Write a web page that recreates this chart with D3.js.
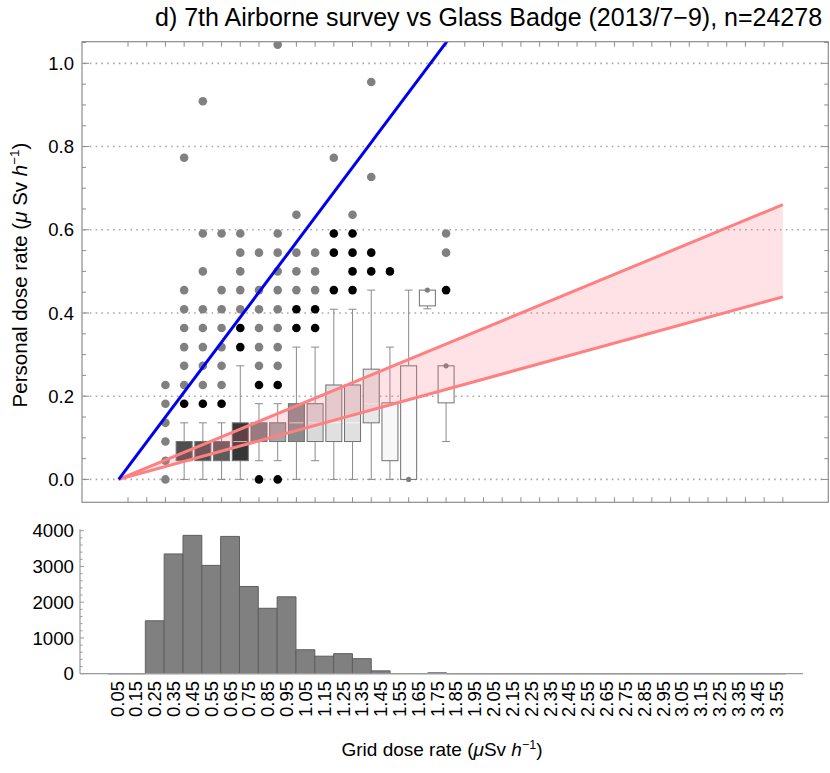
<!DOCTYPE html>
<html><head><meta charset="utf-8">
<script src="https://cdn.jsdelivr.net/npm/d3@7"></script>
<style>body{margin:0;background:#fff} text{font-family:"Liberation Sans",Arial,Helvetica,sans-serif;fill:#000}</style>
</head><body><svg id="c" width="830" height="773"></svg>
<script>
// ---------------- data ----------------
const binCenters = [0.05,0.15,0.25,0.35,0.45,0.55,0.65,0.75,0.85,0.95,1.05,1.15,1.25,1.35,1.45,1.55,1.65,1.75,1.85,1.95,2.05,2.15,2.25,2.35,2.45,2.55,2.65,2.75,2.85,2.95,3.05,3.15,3.25,3.35,3.45,3.55];
const binLabels = ["0.05","0.15","0.25","0.35","0.45","0.55","0.65","0.75","0.85","0.95","1.05","1.15","1.25","1.35","1.45","1.55","1.65","1.75","1.85","1.95","2.05","2.15","2.25","2.35","2.45","2.55","2.65","2.75","2.85","2.95","3.05","3.15","3.25","3.35","3.45","3.55"];
const histCounts = [0,0,1480,3350,3870,3030,3840,2440,1830,2150,670,490,560,420,80,5,5,25,0,0,0,0,0,0,0,0,0,0,0,0,0,0,0,0,0,0];
const histTicks = [0,1000,2000,3000,4000];
const yTicks = [0.0,0.2,0.4,0.6,0.8,1.0];
const yTickLabels = ["0.0","0.2","0.4","0.6","0.8","1.0"];

// box-whisker summary per grid-dose bin
const boxDose  = [0.35,0.45,0.55,0.65,0.75,0.85,0.95,1.05,1.15,1.25,1.35,1.45,1.55,1.65,1.75];
const boxQ1    = [0.045,0.045,0.045,0.045,0.091,0.091,0.091,0.091,0.091,0.091,0.136,0.045,0.0,0.417,0.184];
const boxQ3    = [0.091,0.091,0.091,0.136,0.136,0.136,0.182,0.182,0.227,0.227,0.265,0.184,0.273,0.455,0.273];
const boxMed   = [0.045,0.045,0.045,0.091,0.091,0.091,0.136,0.136,0.136,0.136,0.182,0.045,0.159,0.455,0.273];
const boxLow   = [0.0,0.0,0.0,0.0,0.045,0.045,0.0,0.045,0.0,0.0,0.0,0.0,0.0,0.410,0.091];
const boxHigh  = [0.136,0.136,0.136,0.273,0.182,0.182,0.318,0.318,0.409,0.409,0.455,0.318,0.455,0.455,0.273];
const boxFills = ["#4f4f4f","#4f4f4f","#5c5c5c","#363636","#7f7f7f","#a6a6a6","#8c8c8c","#d9d9d9","#e0e0e0","#e0e0e0","#e8e8e8","#f7f7f7","#fcfcfc","#ffffff","#ffffff"];

// far outliers (gray) and near outliers (black): [grid dose, personal dose]
const farOutliers = [
 [0.25,0],[0.25,0.045],[0.25,0.091],[0.25,0.136],[0.25,0.182],[0.25,0.227],
 [0.35,0.227],[0.35,0.273],[0.35,0.318],[0.35,0.364],[0.35,0.409],[0.35,0.455],[0.35,0.773],
 [0.45,0.227],[0.45,0.273],[0.45,0.318],[0.45,0.364],[0.45,0.409],[0.45,0.5],[0.45,0.591],[0.45,0.909],
 [0.55,0.227],[0.55,0.273],[0.55,0.318],[0.55,0.364],[0.55,0.409],[0.55,0.455],[0.55,0.591],
 [0.65,0.409],[0.65,0.455],[0.65,0.5],[0.65,0.545],[0.65,0.591],
 [0.75,0.273],[0.75,0.318],[0.75,0.364],[0.75,0.409],[0.75,0.455],[0.75,0.545],
 [0.85,0.273],[0.85,0.318],[0.85,0.364],[0.85,0.409],[0.85,0.455],[0.85,0.5],[0.85,0.545],[0.85,0.591],[0.85,1.045],
 [0.95,0.455],[0.95,0.5],[0.95,0.545],[0.95,0.636],
 [1.05,0.455],[1.05,0.5],[1.05,0.545],
 [1.15,0.773],[1.25,0.636],[1.35,0.727],[1.35,0.955],
 [1.75,0.545],[1.75,0.591]
];
const nearOutliers = [
 [0.35,0.182],[0.45,0.182],[0.55,0.182],
 [0.65,0.318],[0.65,0.364],
 [0.75,0],[0.75,0.227],[0.85,0],[0.85,0.227],
 [0.95,0.364],[0.95,0.409],[1.05,0.364],[1.05,0.409],
 [1.15,0.455],[1.15,0.545],[1.15,0.591],
 [1.25,0.455],[1.25,0.5],[1.25,0.545],[1.25,0.591],
 [1.35,0.5],[1.35,0.545],[1.45,0.5],[1.75,0.455]
];
const smallMarks = [[1.55,0],[1.65,0.455],[1.75,0.273]];

// reference lines through origin
const blueSlope = 0.6;
const redUpperSlope = 0.186;
const redLowerSlope = 0.1236;
const redEnd = 3.55;

// ---------------- drawing ----------------
const svg = d3.select("#c");
const FR = "#8c8c8c";

// top panel scales
const x = d3.scaleLinear().domain([-0.196, 3.793]).range([82, 828.3]);
const y = d3.scaleLinear().domain([-0.055, 1.052]).range([502.3, 41.7]);

svg.append("defs").append("clipPath").attr("id","clipTop")
  .append("rect").attr("x",82).attr("y",41.7).attr("width",828.3-82).attr("height",502.3-41.7);

const topG = svg.append("g");

// gridlines
topG.selectAll("line.grid").data(yTicks).enter().append("line")
  .attr("x1",84).attr("x2",826).attr("y1",d=>y(d)).attr("y2",d=>y(d))
  .attr("stroke","#a8a8a8").attr("stroke-width",1.6).attr("stroke-dasharray","1.6,4.2");

// y ticks (major + minor) left & right
const minorY = [0,0.05,0.1,0.15,0.2,0.25,0.3,0.35,0.4,0.45,0.5,0.55,0.6,0.65,0.7,0.75,0.8,0.85,0.9,0.95,1.0,1.05];
minorY.forEach(v => {
  const isMajor = Math.abs(v*5 - Math.round(v*5)) < 1e-6;
  const len = isMajor ? 7 : 4;
  topG.append("line").attr("x1",82).attr("x2",82+len).attr("y1",y(v)).attr("y2",y(v)).attr("stroke",FR);
  topG.append("line").attr("x1",828.3).attr("x2",828.3-len).attr("y1",y(v)).attr("y2",y(v)).attr("stroke",FR);
});
// x ticks top & bottom at bin centers
binCenters.forEach(v => {
  topG.append("line").attr("x1",x(v)).attr("x2",x(v)).attr("y1",41.7).attr("y2",46.7).attr("stroke",FR);
  topG.append("line").attr("x1",x(v)).attr("x2",x(v)).attr("y1",502.3).attr("y2",497.3).attr("stroke",FR);
});

// y tick labels
topG.selectAll("text.yl").data(yTicks).enter().append("text")
  .attr("x",74).attr("y",d=>y(d)).attr("dy","0.36em").attr("text-anchor","end")
  .attr("font-size",18.5).text((d,i)=>yTickLabels[i]);

const plot = topG.append("g").attr("clip-path","url(#clipTop)");

// outliers
plot.selectAll("circle.far").data(farOutliers).enter().append("circle")
  .attr("cx",d=>x(d[0])).attr("cy",d=>y(d[1])).attr("r",4.3).attr("fill","#808080");
plot.selectAll("circle.near").data(nearOutliers).enter().append("circle")
  .attr("cx",d=>x(d[0])).attr("cy",d=>y(d[1])).attr("r",4.3).attr("fill","#000");

// boxes
const bw = 16, cap = 4;
boxDose.forEach((d,i) => {
  const cx = x(d);
  const wc = "#8a8a8a";
  if (boxHigh[i] > boxQ3[i]) {
    plot.append("line").attr("x1",cx).attr("x2",cx).attr("y1",y(boxQ3[i])).attr("y2",y(boxHigh[i])).attr("stroke",wc);
    plot.append("line").attr("x1",cx-cap).attr("x2",cx+cap).attr("y1",y(boxHigh[i])).attr("y2",y(boxHigh[i])).attr("stroke",wc);
  }
  if (boxLow[i] < boxQ1[i]) {
    plot.append("line").attr("x1",cx).attr("x2",cx).attr("y1",y(boxQ1[i])).attr("y2",y(boxLow[i])).attr("stroke",wc);
    plot.append("line").attr("x1",cx-cap).attr("x2",cx+cap).attr("y1",y(boxLow[i])).attr("y2",y(boxLow[i])).attr("stroke",wc);
  }
  plot.append("rect").attr("x",cx-bw/2).attr("width",bw)
    .attr("y",y(boxQ3[i])).attr("height",y(boxQ1[i])-y(boxQ3[i]))
    .attr("fill",boxFills[i]).attr("stroke","#707070").attr("stroke-width",1);
  if (boxMed[i] > boxQ1[i] && boxMed[i] < boxQ3[i]) {
    plot.append("line").attr("x1",cx-bw/2+1).attr("x2",cx+bw/2-1).attr("y1",y(boxMed[i])).attr("y2",y(boxMed[i]))
      .attr("stroke","#fff").attr("stroke-opacity",0.75);
  }
});
plot.selectAll("circle.sm").data(smallMarks).enter().append("circle")
  .attr("cx",d=>x(d[0])).attr("cy",d=>y(d[1])).attr("r",2.6).attr("fill","#808080");

// red band
const band = [0, redEnd];
plot.append("path")
  .attr("d", d3.area().x(d=>x(d)).y0(d=>y(redLowerSlope*d)).y1(d=>y(redUpperSlope*d))(band))
  .attr("fill","rgb(255,110,125)").attr("fill-opacity",0.2);
const ln = d3.line().x(d=>x(d[0])).y(d=>y(d[1]));
plot.append("path").attr("d", ln(band.map(d=>[d, redUpperSlope*d]))).attr("stroke","#ff8080").attr("stroke-width",3).attr("fill","none");
plot.append("path").attr("d", ln(band.map(d=>[d, redLowerSlope*d]))).attr("stroke","#ff8080").attr("stroke-width",3).attr("fill","none");
// blue line
plot.append("path").attr("d", ln([[0,0],[1.8,1.8*blueSlope]])).attr("stroke","#0000ee").attr("stroke-width",3).attr("fill","none");

// frame
topG.append("rect").attr("x",82).attr("y",41.7).attr("width",828.3-82).attr("height",502.3-41.7)
  .attr("fill","none").attr("stroke",FR).attr("stroke-width",1.2);

// title
svg.append("text").attr("x",155).attr("y",26).attr("font-size",25)
  .text("d) 7th Airborne survey vs Glass Badge (2013/7\u22129), n=24278");

// y axis label
const yl = svg.append("text").attr("transform","translate(27,275) rotate(-90)").attr("text-anchor","middle").attr("font-size",20.5);
yl.append("tspan").text("Personal dose rate (");
yl.append("tspan").attr("font-style","italic").text("\u03bc");
yl.append("tspan").text(" Sv ");
yl.append("tspan").attr("font-style","italic").text("h");
yl.append("tspan").attr("font-size",13.5).attr("dy",-8).text("\u22121");
yl.append("tspan").attr("dy",8).text(")");

// ---------------- histogram ----------------
const xh = d3.scaleLinear().domain([-0.147, 3.693]).range([80, 803]);
const yh = d3.scaleLinear().domain([0, 4000]).range([673.7, 530.7]);
const hg = svg.append("g");

hg.selectAll("path.bar").data(binCenters).enter().append("path")
  .attr("d",(d,i)=>{
    const x0 = xh(d-0.05), x1 = xh(d+0.05), y0 = yh(0), y1 = yh(histCounts[i]);
    return `M${x0},${y0}V${y1}H${x1}V${y0}Z`;
  })
  .attr("fill","#808080").attr("stroke","#5e5e5e").attr("stroke-width",1);

// axes
hg.append("line").attr("x1",80).attr("x2",803).attr("y1",yh(0)).attr("y2",yh(0)).attr("stroke","#9a9a9a").attr("stroke-width",1.2);
hg.append("line").attr("x1",80).attr("x2",80).attr("y1",yh(0)).attr("y2",yh(4000)-1.5).attr("stroke","#9a9a9a").attr("stroke-width",1.2);
const histMinor = [0,200,400,600,800,1000,1200,1400,1600,1800,2000,2200,2400,2600,2800,3000,3200,3400,3600,3800,4000];
histMinor.forEach(v => {
  const major = v % 1000 === 0;
  hg.append("line").attr("x1",80).attr("x2",80+(major?4:2.5)).attr("y1",yh(v)).attr("y2",yh(v)).attr("stroke","#9a9a9a");
});
hg.selectAll("text.hy").data(histTicks).enter().append("text")
  .attr("x",74).attr("y",d=>yh(d)).attr("dy","0.36em").attr("text-anchor","end").attr("font-size",18.7).text(d=>d);

hg.selectAll("text.hx").data(binCenters).enter().append("text")
  .attr("transform",d=>`translate(${xh(d)+6.5},681) rotate(-90)`)
  .attr("text-anchor","end").attr("font-size",18.5).text((d,i)=>binLabels[i]);

// x axis label
const xl = svg.append("text").attr("x",442).attr("y",756).attr("text-anchor","middle").attr("font-size",19);
xl.append("tspan").text("Grid dose rate (");
xl.append("tspan").attr("font-style","italic").text("\u03bc");
xl.append("tspan").text("Sv ");
xl.append("tspan").attr("font-style","italic").text("h");
xl.append("tspan").attr("font-size",12.5).attr("dy",-7).text("\u22121");
xl.append("tspan").attr("dy",7).text(")");
</script>
</body></html>
